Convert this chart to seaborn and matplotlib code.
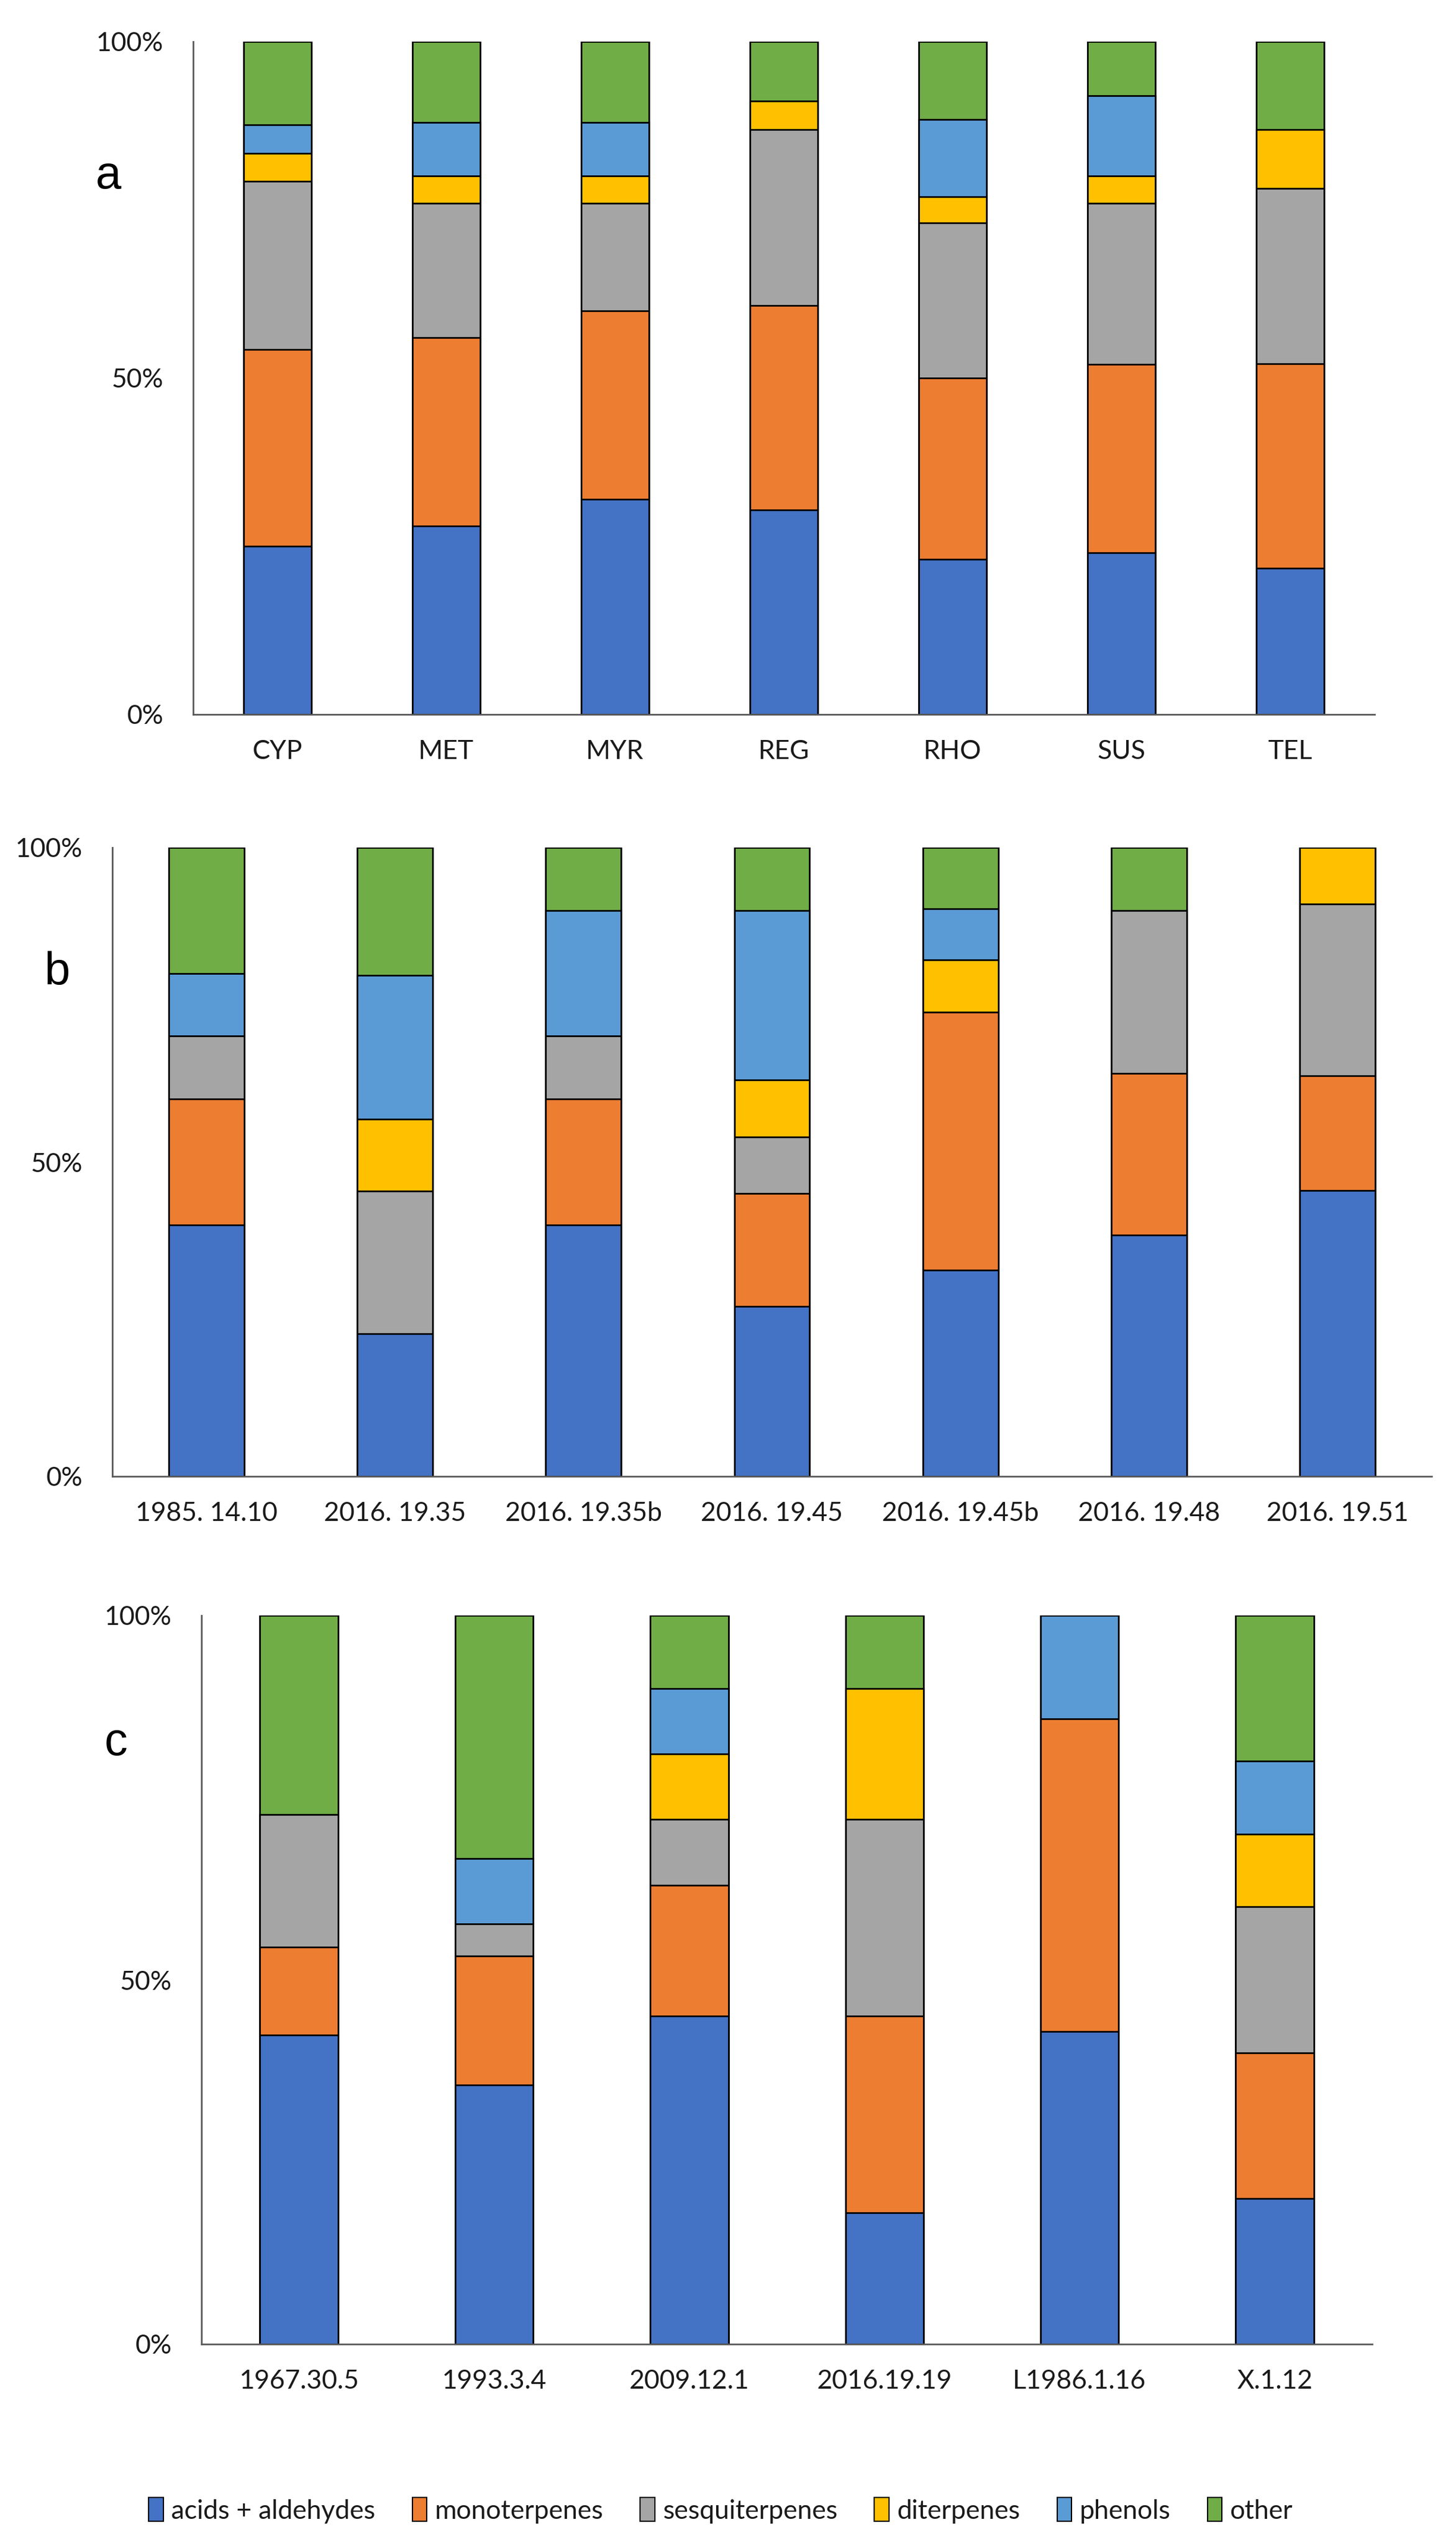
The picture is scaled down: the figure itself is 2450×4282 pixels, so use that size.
import matplotlib
matplotlib.use("Agg")
import matplotlib.pyplot as plt
from matplotlib.patches import Patch
import numpy as np
import pandas as pd
import seaborn as sns

sns.set_theme(style="white")
plt.rcParams['font.family'] = ['Lato', 'DejaVu Sans']

series_names = ['acids + aldehydes', 'monoterpenes', 'sesquiterpenes', 'diterpenes', 'phenols', 'other']
series_colors = ['#4472C4', '#ED7D31', '#A5A5A5', '#FFC000', '#5B9BD5', '#70AD47']

# Panel a
a_cats = ['CYP', 'MET', 'MYR', 'REG', 'RHO', 'SUS', 'TEL']
a_acids = [25.0, 28.0, 32.0, 30.4, 23.1, 24.0, 21.7]
a_mono = [29.2, 28.0, 28.0, 30.4, 26.9, 28.0, 30.4]
a_sesq = [25.0, 20.0, 16.0, 26.1, 23.1, 24.0, 26.1]
a_diter = [4.2, 4.0, 4.0, 4.3, 3.8, 4.0, 8.7]
a_phen = [4.2, 8.0, 8.0, 0.0, 11.5, 12.0, 0.0]
a_other = [12.4, 12.0, 12.0, 8.8, 11.6, 8.0, 13.1]

# Panel b
b_cats = ['1985. 14.10', '2016. 19.35', '2016. 19.35b', '2016. 19.45', '2016. 19.45b', '2016. 19.48', '2016. 19.51']
b_acids = [40.0, 22.7, 40.0, 27.0, 32.8, 38.4, 45.5]
b_mono = [20.0, 0.0, 20.0, 18.0, 41.0, 25.7, 18.2]
b_sesq = [10.0, 22.7, 10.0, 9.0, 0.0, 25.9, 27.3]
b_diter = [0.0, 11.4, 0.0, 9.0, 8.3, 0.0, 9.0]
b_phen = [10.0, 22.9, 20.0, 27.0, 8.2, 0.0, 0.0]
b_other = [20.0, 20.3, 10.0, 10.0, 9.7, 10.0, 0.0]

# Panel c
c_cats = ['1967.30.5', '1993.3.4', '2009.12.1', '2016.19.19', 'L1986.1.16', 'X.1.12']
c_acids = [42.4, 35.6, 45.0, 18.0, 42.9, 20.0]
c_mono = [12.1, 17.7, 18.0, 27.0, 42.9, 20.0]
c_sesq = [18.2, 4.4, 9.0, 27.0, 0.0, 20.0]
c_diter = [0.0, 0.0, 9.0, 18.0, 0.0, 10.0]
c_phen = [0.0, 8.9, 9.0, 0.0, 14.2, 10.0]
c_other = [27.3, 33.4, 10.0, 10.0, 0.0, 20.0]

panels = [
    ('a', a_cats, [a_acids, a_mono, a_sesq, a_diter, a_phen, a_other]),
    ('b', b_cats, [b_acids, b_mono, b_sesq, b_diter, b_phen, b_other]),
    ('c', c_cats, [c_acids, c_mono, c_sesq, c_diter, c_phen, c_other]),
]

W, H = 2450, 4282
fig = plt.figure(figsize=(W / 100, H / 100), dpi=100)

# axes rectangles in pixels: left, top, right, bottom
rects = [(325, 70, 2313, 1202), (189, 1426, 2409, 2484), (339, 2718, 2309, 3944)]
letters_pos = [(182, 297), (97, 1636), (195, 2932)]

TXT = '#1a1a1a'
SPINE = '#595959'
FS = 32

for (letter, cats, vals), (l, t, r, b), (lx, ly) in zip(panels, rects, letters_pos):
    ax = fig.add_axes([l / W, 1 - b / H, (r - l) / W, (b - t) / H])
    arr = np.array(vals)
    cum = np.cumsum(arr, axis=0)
    # draw from top layer down so lower layers overlay
    for i in range(len(series_names) - 1, -1, -1):
        df = pd.DataFrame({'cat': cats, 'val': cum[i]})
        sns.barplot(data=df, x='cat', y='val', order=cats, color=series_colors[i],
                    width=0.4, edgecolor='black', linewidth=2.0, errorbar=None,
                    saturation=1, ax=ax)
    ax.set_xlim(-0.5, len(cats) - 0.5)
    ax.set_ylim(0, 100)
    ax.set_yticks([0, 50, 100])
    ax.set_yticklabels(['0%', '50%', '100%'])
    ax.set_xlabel('')
    ax.set_ylabel('')
    for s in ['top', 'right']:
        ax.spines[s].set_visible(False)
    for s in ['left', 'bottom']:
        ax.spines[s].set_color(SPINE)
        ax.spines[s].set_linewidth(2)
    ax.tick_params(axis='x', length=0, labelsize=FS, colors=TXT, pad=30)
    ax.tick_params(axis='y', length=0, labelsize=FS, colors=TXT, pad=36)
    ax.set_facecolor('white')
    fig.text(lx / W, 1 - ly / H, letter, ha='center', va='center', fontsize=56,
             color='black', family=['Liberation Sans', 'DejaVu Sans'])

handles = [Patch(facecolor=c, edgecolor='black', linewidth=1.5) for c in series_colors]
fig.legend(handles, series_names, loc='center', bbox_to_anchor=(0.495, 1 - 4224 / H),
           ncol=6, frameon=False, fontsize=FS, handlelength=0.55, handleheight=1.0,
           handletextpad=0.3, columnspacing=1.4, labelcolor=TXT)

fig.savefig('out.png', dpi=100, facecolor='white')
